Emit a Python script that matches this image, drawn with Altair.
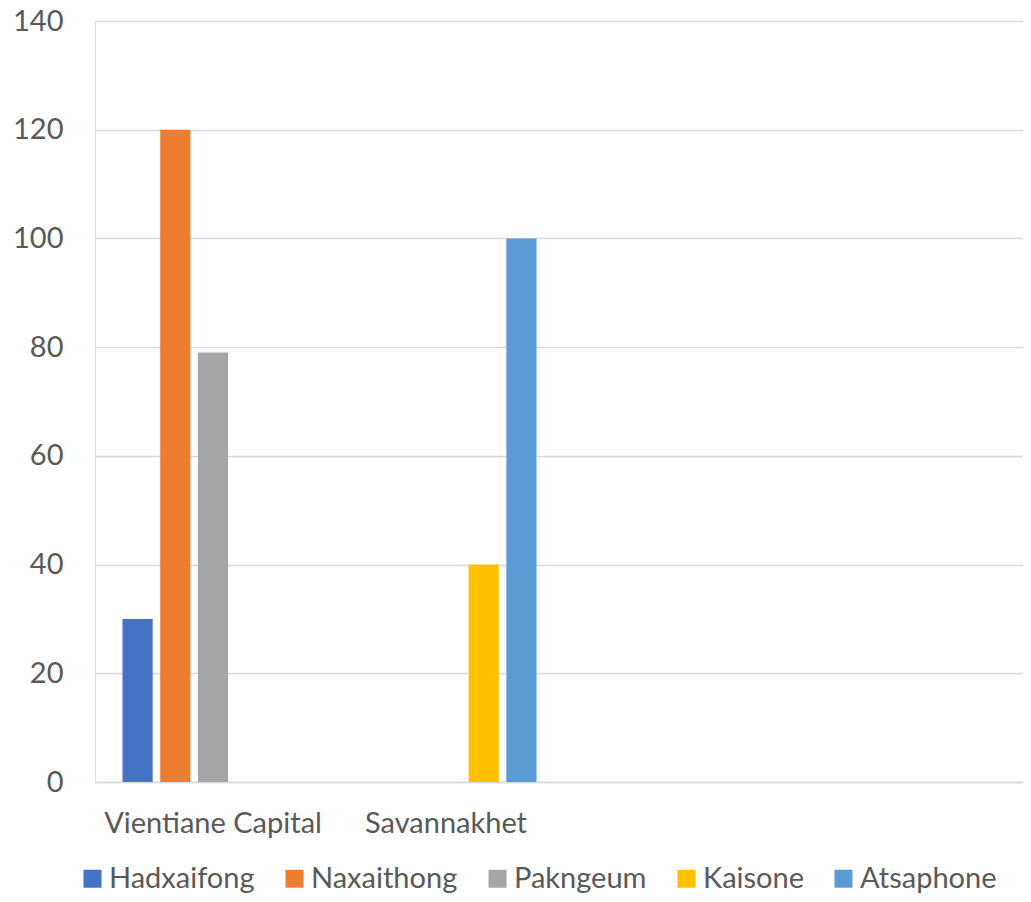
import altair as alt
import pandas as pd

categories = ["Vientiane Capital", "Savannakhet", "_c3", "_c4"]
series = ["Hadxaifong", "Naxaithong", "Pakngeum", "Kaisone", "Atsaphone"]
colors = ["#4472C4", "#ED7D31", "#A5A5A5", "#FFC000", "#5B9BD5"]

row_category = ["Vientiane Capital", "Vientiane Capital", "Vientiane Capital", "Savannakhet", "Savannakhet"]
row_series = ["Hadxaifong", "Naxaithong", "Pakngeum", "Kaisone", "Atsaphone"]
row_value = [30, 120, 79, 40, 100]

df = pd.DataFrame({"category": row_category, "series": row_series, "value": row_value})

FONT = "Lato"
GREY = "#595959"
FS = 29

chart = alt.Chart(df).mark_bar().encode(
    x=alt.X("category:N", title=None,
            scale=alt.Scale(domain=categories, paddingInner=0.223, paddingOuter=0.118),
            axis=alt.Axis(labelAngle=0, ticks=False, domainColor="#D9D9D9", domainWidth=1.5,
                          labelFontSize=FS, labelColor=GREY, labelFont=FONT, labelPadding=41,
                          labelLimit=0, labelBaseline="middle",
                          labelExpr="indexof(['Vientiane Capital','Savannakhet'], datum.value) >= 0 ? datum.value : ''")),
    xOffset=alt.XOffset("series:N", scale=alt.Scale(domain=series, paddingInner=0.2)),
    y=alt.Y("value:Q", title=None,
            scale=alt.Scale(domain=[0, 140], nice=False),
            axis=alt.Axis(values=[0, 20, 40, 60, 80, 100, 120, 140], ticks=False, domain=False,
                          gridColor="#D9D9D9", gridWidth=1.5,
                          labelFontSize=FS, labelColor=GREY, labelFont=FONT, labelPadding=32)),
    color=alt.Color("series:N", title=None,
                    scale=alt.Scale(domain=series, range=colors),
                    legend=alt.Legend(orient="none", legendX=-17, legendY=843, direction="horizontal",
                                      symbolType="square", symbolSize=324, symbolStrokeWidth=0,
                                      labelFontSize=FS, labelColor=GREY, labelFont=FONT,
                                      columnPadding=25, labelOffset=2, columns=5, labelLimit=0)),
).properties(
    width=935, height=761,
    padding={"left": 87, "top": 13, "right": -7, "bottom": 112},
    autosize=alt.AutoSizeParams(type="none"),
).configure_view(stroke=None).configure(background="white")

chart.save("out.html", embed_options={"renderer": "svg", "actions": False})
